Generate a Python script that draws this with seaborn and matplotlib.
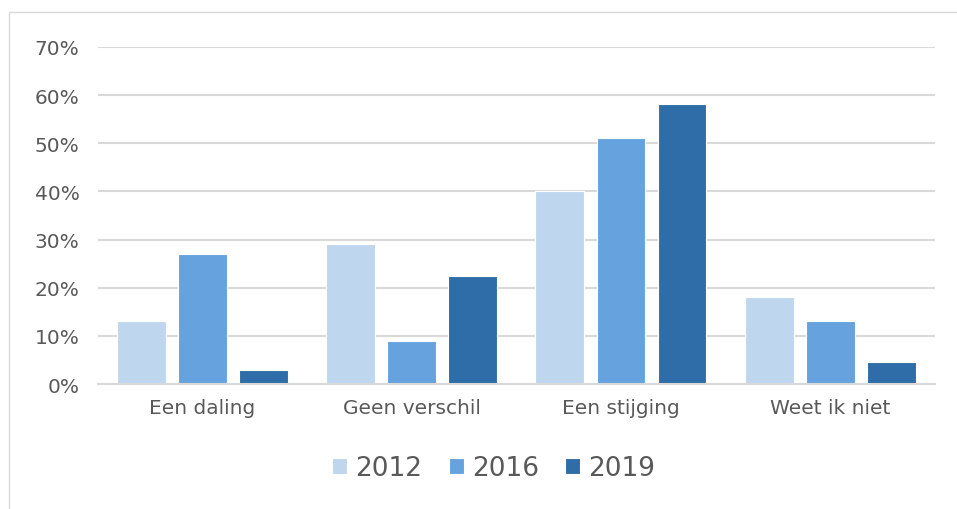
import pandas as pd
import seaborn as sns
import matplotlib.pyplot as plt
from matplotlib.patches import Rectangle


categories = ['Een daling', 'Geen verschil', 'Een stijging', 'Weet ik niet']
years = ['2012', '2016', '2019']
values_2012 = [0.13, 0.29, 0.40, 0.18]
values_2016 = [0.27, 0.09, 0.51, 0.13]
values_2019 = [0.03, 0.224, 0.582, 0.045]
colors = ['#BFD6EF', '#65A2DE', '#2E6DA7']

# long table for seaborn
rows = []
for year, vals in zip(years, [values_2012, values_2016, values_2019]):
    for cat, v in zip(categories, vals):
        rows.append({'cat': cat, 'year': year, 'value': v})
df = pd.DataFrame(rows)

sns.set_style('white')
plt.rcParams['font.family'] = ['Verdana', 'DejaVu Sans']

fig = plt.figure(figsize=(9.57, 5.10), dpi=100)
ax = fig.add_axes([0.102, 0.245, 0.875, 0.661])

sns.barplot(
    data=df, x='cat', y='value', hue='year',
    palette=colors, saturation=1, width=0.875, gap=0.2,
    edgecolor='white', linewidth=0.8, ax=ax
)

ax.set_ylim(0, 0.7)
ax.set_xlim(-0.5, 3.5)
ax.set_yticks([i / 10 for i in range(8)])
ax.set_yticklabels([f'{i * 10}%' for i in range(8)])
ax.yaxis.grid(True, color='#D9D9D9', linewidth=1.5)
ax.set_axisbelow(True)
for s in ['top', 'right', 'left']:
    ax.spines[s].set_visible(False)
ax.spines['bottom'].set_color('#D9D9D9')
ax.spines['bottom'].set_linewidth(1.5)
ax.tick_params(axis='y', length=0, labelsize=14.5, labelcolor='#595959', pad=13)
ax.tick_params(axis='x', length=0, labelsize=14.5, labelcolor='#595959', pad=10)
ax.set_xlabel('')
ax.set_ylabel('')

handles, labels = ax.get_legend_handles_labels()
ax.legend(handles, labels, loc='center', bbox_to_anchor=(0.473, -0.25),
          ncol=3, frameon=False, fontsize=19, handlelength=0.57,
          handleheight=0.57, handletextpad=0.3, columnspacing=1.0,
          labelcolor='#595959')

# light chart border
fig.patches.append(Rectangle((0.009, -0.1), 1.1, 1.074, transform=fig.transFigure,
                             fill=False, edgecolor='#D9D9D9', linewidth=1))

fig.savefig('out.png', dpi=100)
